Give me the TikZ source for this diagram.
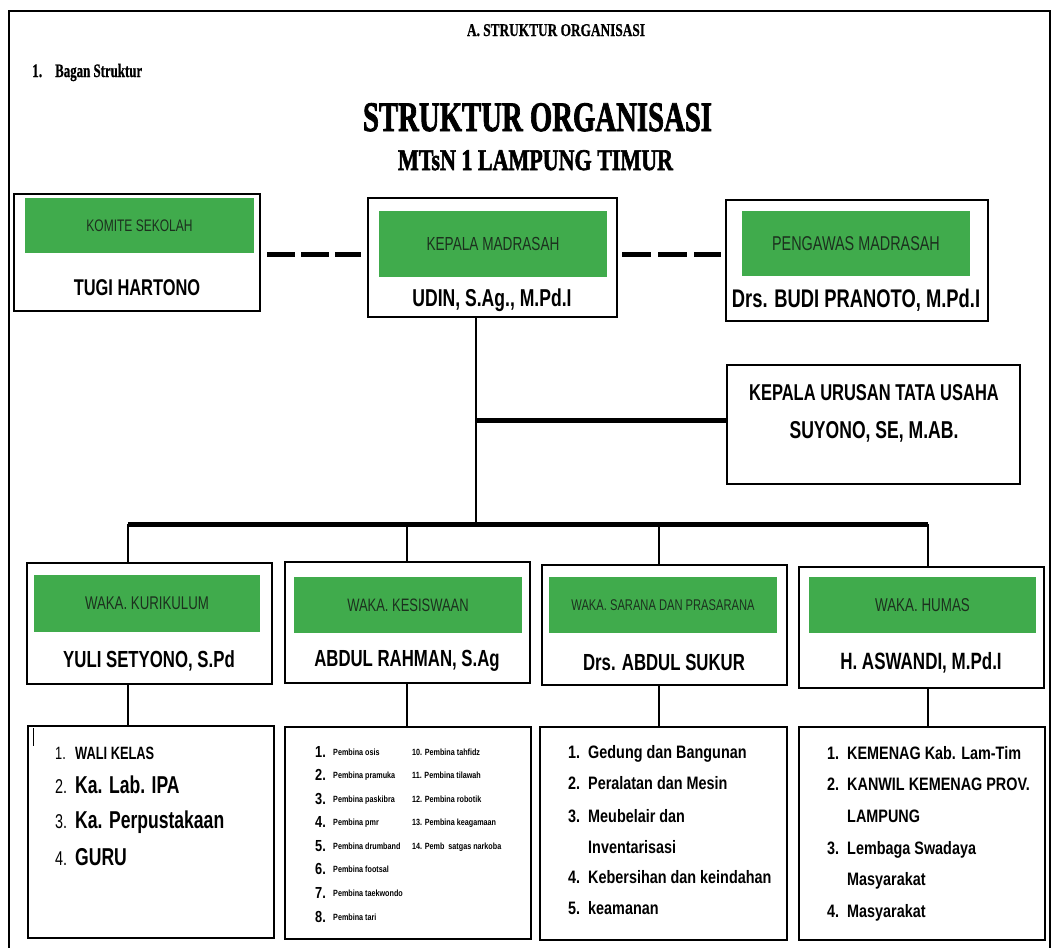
\documentclass[tikz,border=0pt]{standalone}
\usepackage{fontspec}
\setmainfont{Liberation Serif}
\newfontfamily\nar[FakeStretch=0.8]{Liberation Sans}
\newfontfamily\narb[FakeStretch=0.72]{Liberation Sans}
\newfontfamily\heavy[FakeBold=2.2]{Liberation Serif}
\newfontfamily\semiheavy[FakeBold=0.8]{Liberation Serif}
\definecolor{gbar}{RGB}{64,171,76}
\definecolor{gtext}{RGB}{28,48,30}
\newcommand\bx[6]{\node[#1, minimum width={#5-#3}, minimum height={#6-#4}] (#2) at ({(#3+#5)/2},{(#4+#6)/2}) {};}
\tikzset{
  box/.style={draw=black, line width=2.7pt, fill=white, inner sep=0pt},
  gbox/.style={fill=gbar, inner sep=0pt},
  lbl/.style={text=gtext, inner sep=0pt},
  nm/.style={inner sep=0pt},
  conn/.style={line width=2.4pt},
  bus/.style={line width=5pt},
  dsh/.style={line width=5pt, dash pattern=on 28pt off 6pt},
  itm/.style={anchor=base west, inner sep=0pt},
  ttl/.style={inner sep=0pt, anchor=base},
}
\begin{document}
\begin{tikzpicture}[x=1pt,y=-1pt]
\useasboundingbox (0,0) rectangle (1053,948);
% outer frame
\draw[line width=2pt] (9,948) -- (9,11) -- (1050,11) -- (1050,948);

% headings
\node[ttl, font=\semiheavy\bfseries\fontsize{18}{20}\selectfont] (hA) at (556,36) {\resizebox{178pt}{\height}{A. STRUKTUR ORGANISASI}};
\node[itm, font=\semiheavy\bfseries\fontsize{19}{21}\selectfont] (hB1) at (32,77) {\resizebox{10pt}{\height}{1.}};
\node[itm, font=\semiheavy\bfseries\fontsize{19}{21}\selectfont] (hB2) at (55,77) {\resizebox{87pt}{\height}{Bagan Struktur}};
\node[ttl, font=\heavy\bfseries\fontsize{42}{44}\selectfont] (t1) at (537.5,131) {\resizebox{349pt}{\height}{STRUKTUR ORGANISASI}};
\node[ttl, font=\heavy\bfseries\fontsize{30}{32}\selectfont] (t2) at (535.5,170) {\resizebox{275pt}{\height}{MTsN 1 LAMPUNG TIMUR}};

% top boxes
\bx{box}{komite}{14}{194}{260}{311}
\bx{gbox}{komiteg}{25}{198}{254}{253}
\node[lbl, font=\narb\fontsize{16.7}{19}\selectfont] (komitel) at (komiteg) {KOMITE SEKOLAH};
\node[nm, font=\narb\bfseries\fontsize{22.8}{25}\selectfont] (komiten) at (137,288) {TUGI HARTONO};

\bx{box}{kepala}{368}{198}{617}{317}
\bx{gbox}{kepalag}{379}{211}{607}{277}
\node[lbl, font=\narb\fontsize{18.9}{21}\selectfont] (kepalal) at (kepalag) {KEPALA MADRASAH};
\node[nm, font=\narb\bfseries\fontsize{24.4}{27}\selectfont] (kepalan) at (492,300) {UDIN, S.Ag., M.Pd.I};

\bx{box}{pengawas}{726}{200}{988}{321}
\bx{gbox}{pengawasg}{742}{211}{970}{276}
\node[lbl, font=\narb\fontsize{20}{22}\selectfont] (pengawasl) at (pengawasg) {PENGAWAS MADRASAH};
\node[nm, font=\narb\bfseries\fontsize{25.5}{28}\selectfont] (pengawasn) at (856,300) {Drs. BUDI PRANOTO, M.Pd.I};

% dashed links
\coordinate (ld) at (300,254);
\coordinate (rd) at (670,254);
\draw[dsh, shorten <=6pt, shorten >=6pt] (komite.east |- ld) -- (kepala.west |- ld);
\draw[dsh, dash pattern=on 29pt off 7pt, shorten <=4pt, shorten >=4pt] (kepala.east |- rd) -- (pengawas.west |- rd);

% tata usaha
\bx{box}{tu}{727}{365}{1020}{484}
\node[nm, font=\narb\bfseries\fontsize{22.9}{25}\selectfont] (tu1) at (874,393) {KEPALA URUSAN TATA USAHA};
\node[nm, font=\narb\bfseries\fontsize{24.4}{27}\selectfont] (tu2) at (874,432) {SUYONO, SE, M.AB.};

% waka boxes
\bx{box}{wkur}{27}{563}{272}{684}
\bx{gbox}{wkurg}{34}{575}{260}{632}
\node[lbl, font=\narb\fontsize{18.4}{21}\selectfont] (wkurl) at (wkurg) {WAKA. KURIKULUM};
\node[nm, font=\narb\bfseries\fontsize{23.3}{26}\selectfont] (wkurn) at (149,661) {YULI SETYONO, S.Pd};

\bx{box}{wkes}{285}{562}{530}{683}
\bx{gbox}{wkesg}{294}{577}{522}{633}
\node[lbl, font=\narb\fontsize{18}{21}\selectfont] (wkesl) at (wkesg) {WAKA. KESISWAAN};
\node[nm, font=\narb\bfseries\fontsize{23.3}{26}\selectfont] (wkesn) at (407,661) {ABDUL RAHMAN, S.Ag};

\bx{box}{wsar}{542}{565}{787}{685}
\bx{gbox}{wsarg}{549}{577}{777}{633}
\node[lbl, font=\narb\fontsize{15.5}{18}\selectfont] (wsarl) at (wsarg) {WAKA. SARANA DAN PRASARANA};
\node[nm, font=\narb\bfseries\fontsize{23.3}{26}\selectfont] (wsarn) at (664,662) {Drs. ABDUL SUKUR};

\bx{box}{whum}{799}{567}{1044}{688}
\bx{gbox}{whumg}{809}{577}{1036}{633}
\node[lbl, font=\narb\fontsize{18.6}{21}\selectfont] (whuml) at (whumg) {WAKA. HUMAS};
\node[nm, font=\narb\bfseries\fontsize{23.6}{26}\selectfont] (whumn) at (921,663) {H. ASWANDI, M.Pd.I};

% list boxes
\bx{box}{lkur}{28}{726}{274}{938}
\bx{box}{lkes}{285}{727}{531}{939}
\bx{box}{lsar}{540}{727}{787}{940}
\bx{box}{lhum}{799}{727}{1045}{940}

% connectors
\coordinate (kd) at (476,524);
\coordinate (tj) at (476,420);
\coordinate (b1) at (128,524);
\coordinate (b2) at (407,524);
\coordinate (b3) at (659,524);
\coordinate (b4) at (928,524);
\draw[conn] (kepala.south -| kd) -- (kd);
\draw[bus] (tj) -- (tj -| tu.west);
\draw[bus] (b1) -- (b4);
\draw[conn] (b1) -- (b1 |- wkur.north);
\draw[conn] (b2) -- (b2 |- wkes.north);
\draw[conn] (b3) -- (b3 |- wsar.north);
\draw[conn] (b4) -- (b4 |- whum.north);
\draw[conn] (b1 |- wkur.south) -- (b1 |- lkur.north);
\draw[conn] (b2 |- wkes.south) -- (b2 |- lkes.north);
\draw[conn] (b3 |- wsar.south) -- (b3 |- lsar.north);
\draw[conn] (b4 |- whum.south) -- (b4 |- lhum.north);

% small cursor mark
\draw[line width=0.8pt] (33,728) -- (33,746);

% kurikulum list
\node[itm, font=\narb\fontsize{17.8}{20}\selectfont] (kn1) at (55,759) {1.};
\node[itm, font=\narb\bfseries\fontsize{17.8}{20}\selectfont] (kt1) at (75,759) {WALI KELAS};
\node[itm, font=\narb\fontsize{20}{22}\selectfont] (kn2) at (55,793) {2.};
\node[itm, font=\narb\bfseries\fontsize{24.4}{27}\selectfont] (kt2) at (75,793) {Ka. Lab. IPA};
\node[itm, font=\narb\fontsize{20}{22}\selectfont] (kn3) at (55,828) {3.};
\node[itm, font=\narb\bfseries\fontsize{24.4}{27}\selectfont] (kt3) at (75,828) {Ka. Perpustakaan};
\node[itm, font=\narb\fontsize{20}{22}\selectfont] (kn4) at (55,865) {4.};
\node[itm, font=\narb\bfseries\fontsize{24.4}{27}\selectfont] (kt4) at (75,865) {GURU};

% kesiswaan list
\foreach \n/\t/\y [count=\i] in {1/Pembina osis/752, 2/Pembina pramuka/775, 3/Pembina paskibra/799, 4/Pembina pmr/822, 5/Pembina drumband/846, 6/Pembina footsal/869, 7/Pembina taekwondo/893, 8/Pembina tari/917}{
  \node[itm, font=\nar\bfseries\fontsize{16}{18}\selectfont] (ksn\i) at (315,\y+5.5) {\n.};
  \node[itm, font=\nar\bfseries\fontsize{9}{10}\selectfont] (kst\i) at (333,\y+3.2) {\t};
}
\foreach \t/\y [count=\i] in {10. Pembina tahfidz/752, 11. Pembina tilawah/775, 12. Pembina robotik/799, 13. Pembina keagamaan/822, 14. Pemb\ \ satgas narkoba/846}{
  \node[itm, font=\nar\bfseries\fontsize{9}{10}\selectfont] (ksr\i) at (412,\y+3.2) {\t};
}

% sarana list
\foreach \n/\t/\y [count=\i] in {1./Gedung dan Bangunan/752, 2./Peralatan dan Mesin/783, 3./Meubelair dan/816, /Inventarisasi/847, 4./Kebersihan dan keindahan/877, 5./keamanan/908}{
  \node[itm, font=\nar\bfseries\fontsize{18}{20}\selectfont] (sn\i) at (568,\y+6.5) {\n};
  \node[itm, font=\nar\bfseries\fontsize{18}{20}\selectfont] (st\i) at (588,\y+6.5) {\t};
}

% humas list
\foreach \n/\t/\y [count=\i] in {1./KEMENAG Kab. Lam-Tim/753, 2./KANWIL KEMENAG PROV./784, /LAMPUNG/816, 3./Lembaga Swadaya/848, /Masyarakat/879, 4./Masyarakat/911}{
  \node[itm, font=\nar\bfseries\fontsize{18}{20}\selectfont] (hn\i) at (827,\y+6.5) {\n};
  \node[itm, font=\nar\bfseries\fontsize{18}{20}\selectfont] (ht\i) at (847,\y+6.5) {\t};
}
\end{tikzpicture}
\end{document}
